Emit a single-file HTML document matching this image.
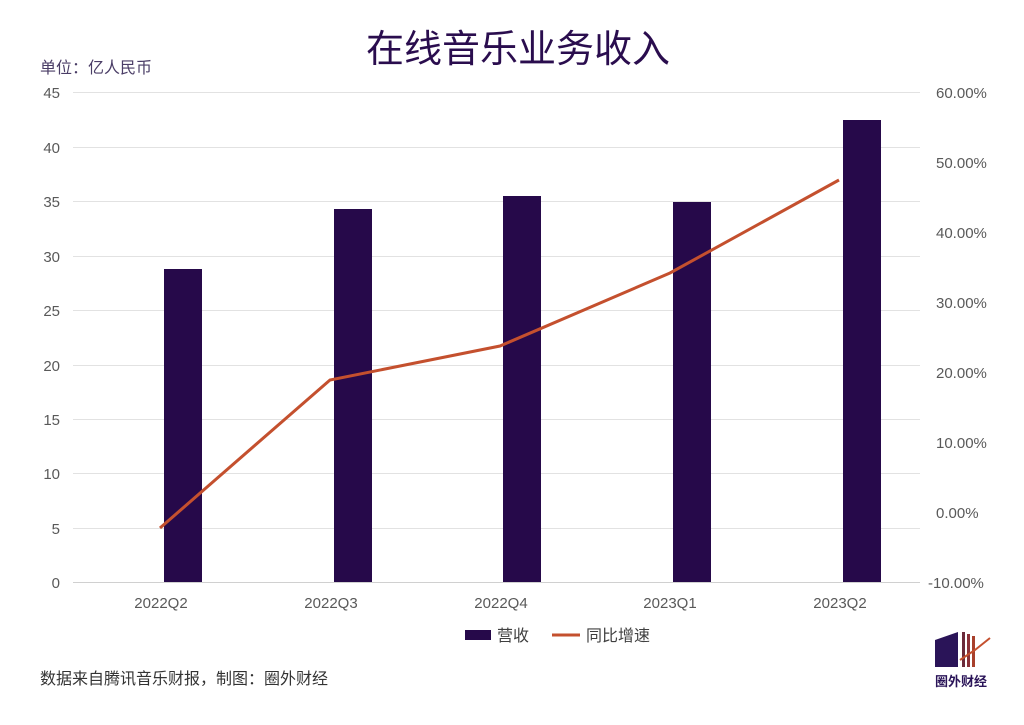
<!DOCTYPE html>
<html><head><meta charset="utf-8"><style>
html,body{margin:0;padding:0;background:#fff;}
svg text{font-family:"Liberation Sans","Noto Sans CJK SC",sans-serif;}
</style></head><body>
<svg width="1024" height="720" viewBox="0 0 1024 720" xmlns="http://www.w3.org/2000/svg">
<rect width="1024" height="720" fill="#fff"/>
<text x="518" y="62" font-size="38" fill="#2a0d4e" text-anchor="middle" font-weight="normal">在线音乐业务收入</text>
<text x="40" y="73" font-size="16" fill="#4a3d66">单位：亿人民币</text>
<g stroke="#e2e2e2" stroke-width="1">
<line x1="73" y1="92.5" x2="920" y2="92.5"/>
<line x1="73" y1="147.5" x2="920" y2="147.5"/>
<line x1="73" y1="201.5" x2="920" y2="201.5"/>
<line x1="73" y1="256.5" x2="920" y2="256.5"/>
<line x1="73" y1="310.5" x2="920" y2="310.5"/>
<line x1="73" y1="365.5" x2="920" y2="365.5"/>
<line x1="73" y1="419.5" x2="920" y2="419.5"/>
<line x1="73" y1="473.5" x2="920" y2="473.5"/>
<line x1="73" y1="528.5" x2="920" y2="528.5"/>
</g>
<line x1="73" y1="582.5" x2="920" y2="582.5" stroke="#d0d0d0"/>
<g font-size="15" fill="#595959" text-anchor="end">
<text x="60" y="98">45</text><text x="60" y="153">40</text><text x="60" y="207">35</text>
<text x="60" y="262">30</text><text x="60" y="316">25</text><text x="60" y="371">20</text>
<text x="60" y="425">15</text><text x="60" y="479">10</text><text x="60" y="534">5</text>
<text x="60" y="588">0</text>
</g>
<g font-size="15" fill="#595959" text-anchor="start">
<text x="936" y="98">60.00%</text><text x="936" y="168">50.00%</text><text x="936" y="238">40.00%</text>
<text x="936" y="308">30.00%</text><text x="936" y="378">20.00%</text><text x="936" y="448">10.00%</text>
<text x="936" y="518">0.00%</text><text x="928" y="588">-10.00%</text>
</g>
<g fill="#26094a">
<rect x="164" y="269" width="38" height="313"/>
<rect x="334" y="209" width="38" height="373"/>
<rect x="503" y="196" width="38" height="386"/>
<rect x="673" y="202" width="38" height="380"/>
<rect x="843" y="120" width="38" height="462"/>
</g>
<polyline points="160,528 330,380 500,346 670,273 839,180" fill="none" stroke="#c4502e" stroke-width="3"/>
<g font-size="15" fill="#595959" text-anchor="middle">
<text x="161" y="608">2022Q2</text><text x="331" y="608">2022Q3</text><text x="501" y="608">2022Q4</text>
<text x="670" y="608">2023Q1</text><text x="840" y="608">2023Q2</text>
</g>
<rect x="465" y="630" width="26" height="10" fill="#26094a"/>
<text x="497" y="641" font-size="16" fill="#404040">营收</text>
<line x1="552" y1="635" x2="580" y2="635" stroke="#c4502e" stroke-width="3"/>
<text x="586" y="641" font-size="16" fill="#404040">同比增速</text>
<text x="40" y="684" font-size="16" fill="#333">数据来自腾讯音乐财报，制图：圈外财经</text>
<g>
<polygon points="935,640 958,632 958,667 935,667" fill="#2a1458"/>
<rect x="962" y="632" width="3" height="35" fill="#6b2a3a"/>
<rect x="967" y="634" width="3" height="33" fill="#8a3038"/>
<rect x="972" y="636" width="3" height="31" fill="#a8402c"/>
<polyline points="960,660 975,650 990,638" fill="none" stroke="#c4502e" stroke-width="2"/>
<text x="961" y="686" font-size="13" fill="#2a1458" text-anchor="middle" font-weight="bold">圈外财经</text>
</g>
</svg>
</body></html>
